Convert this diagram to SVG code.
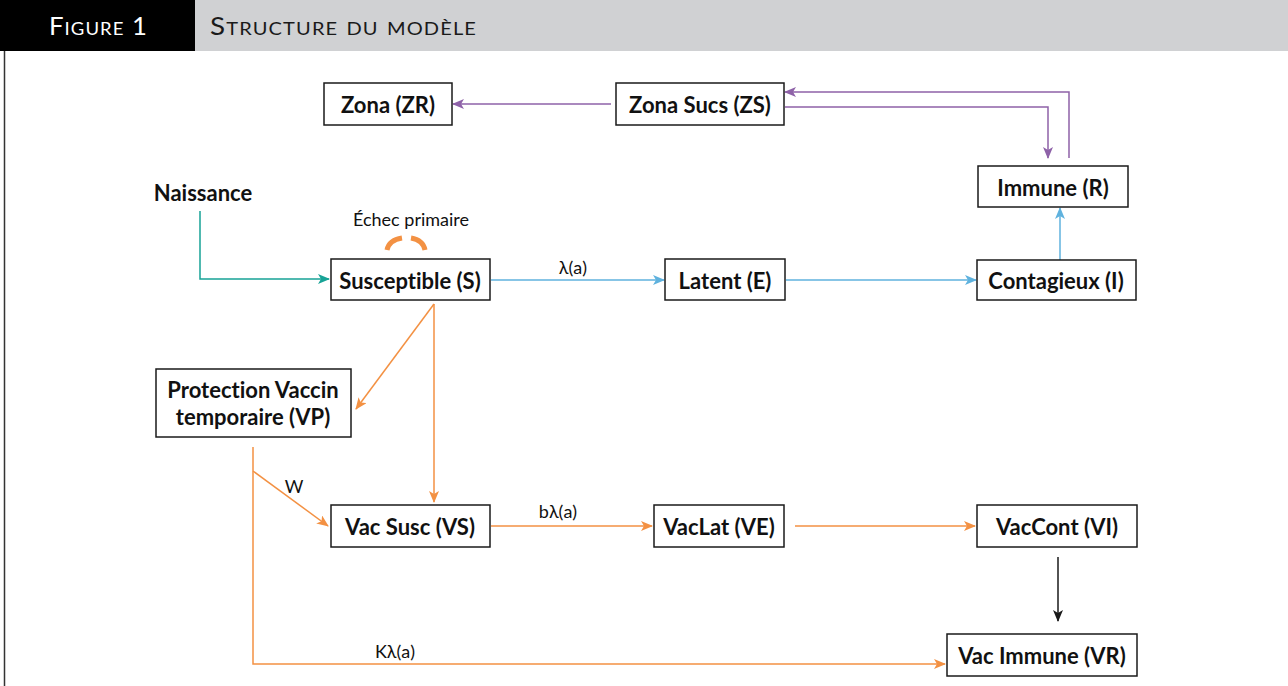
<svg xmlns="http://www.w3.org/2000/svg" width="1288" height="686" viewBox="0 0 1288 686">
<style>
text{font-variant-ligatures:none}
.box{fill:#fff;stroke:#1a1a1a;stroke-width:1.5}
.t{font-family:Lato,"Open Sans",sans-serif;font-weight:bold;font-size:22px;fill:#111;text-anchor:middle;dominant-baseline:central}
.l{font-family:Lato,"Open Sans",sans-serif;font-size:18px;fill:#111;text-anchor:middle}
.hd{font-family:Lato,"Open Sans",sans-serif;font-size:25px;font-variant:small-caps;letter-spacing:1px}
.c{fill:none;stroke-width:1.5}
.pu{stroke:#8e62a8}.bl{stroke:#5fb2de}.te{stroke:#17a396}.or{stroke:#f39143}.bk{stroke:#1a1a1a}
</style>
<defs>
<marker id="ap" viewBox="0 0 12 10" refX="11" refY="5" markerWidth="12" markerHeight="10" markerUnits="userSpaceOnUse" orient="auto"><path d="M0,0 L12,5 L0,10 L3,5 z" fill="#8e62a8"/></marker>
<marker id="ab" viewBox="0 0 12 10" refX="11" refY="5" markerWidth="12" markerHeight="10" markerUnits="userSpaceOnUse" orient="auto"><path d="M0,0 L12,5 L0,10 L3,5 z" fill="#5fb2de"/></marker>
<marker id="at" viewBox="0 0 12 10" refX="11" refY="5" markerWidth="12" markerHeight="10" markerUnits="userSpaceOnUse" orient="auto"><path d="M0,0 L12,5 L0,10 L3,5 z" fill="#17a396"/></marker>
<marker id="ao" viewBox="0 0 12 10" refX="11" refY="5" markerWidth="12" markerHeight="10" markerUnits="userSpaceOnUse" orient="auto"><path d="M0,0 L12,5 L0,10 L3,5 z" fill="#f39143"/></marker>
<marker id="ak" viewBox="0 0 12 10" refX="11" refY="5" markerWidth="12" markerHeight="10" markerUnits="userSpaceOnUse" orient="auto"><path d="M0,0 L12,5 L0,10 L3,5 z" fill="#1a1a1a"/></marker>
</defs>
<rect width="1288" height="686" fill="#fff"/>
<g id="header">
<rect x="0" y="0" width="195" height="51" fill="#000"/>
<rect x="195" y="0" width="1093" height="51" fill="#d0d1d3"/>
<line x1="4.5" y1="51" x2="4.5" y2="686" stroke="#333" stroke-width="1.5"/>
<text class="hd" x="49" y="35" fill="#fff" textLength="99" lengthAdjust="spacingAndGlyphs">Figure 1</text>
<text class="hd" x="210" y="35" fill="#1a1a1a" textLength="267" lengthAdjust="spacingAndGlyphs">Structure du modèle</text>
</g>
<g id="connectors">
<line class="c pu" x1="611" y1="104" x2="453" y2="104" marker-end="url(#ap)"/>
<polyline class="c pu" points="1069,158 1069,92 785,92" marker-end="url(#ap)"/>
<polyline class="c pu" points="785,107 1048,107 1048,158" marker-end="url(#ap)"/>
<line class="c bl" x1="1060" y1="260" x2="1060" y2="208" marker-end="url(#ab)"/>
<line class="c bl" x1="491" y1="280" x2="664" y2="280" marker-end="url(#ab)"/>
<line class="c bl" x1="786" y1="280" x2="976" y2="280" marker-end="url(#ab)"/>
<polyline class="c te" points="200,211 200,279 329,279" marker-end="url(#at)"/>
<path d="M387,250 Q389,240 402,238 M411,238 Q423,240 425,250" fill="none" stroke="#f39143" stroke-width="5"/>
<line class="c or" x1="434" y1="304" x2="356" y2="409" marker-end="url(#ao)"/>
<line class="c or" x1="434" y1="304" x2="434" y2="502" marker-end="url(#ao)"/>
<line class="c or" x1="253" y1="471" x2="328" y2="526" marker-end="url(#ao)"/>
<polyline class="c or" points="253,447 253,664 945,664" marker-end="url(#ao)"/>
<line class="c or" x1="491" y1="526" x2="652" y2="526" marker-end="url(#ao)"/>
<line class="c or" x1="795" y1="526" x2="975" y2="526" marker-end="url(#ao)"/>
<line class="c bk" x1="1058" y1="557" x2="1058" y2="621" marker-end="url(#ak)"/>
</g>
<g id="labels">
<text class="l" x="573" y="274">λ(a)</text>
<text class="l" x="558" y="518">bλ(a)</text>
<text class="l" x="294" y="493">W</text>
<text class="l" x="395" y="658">Kλ(a)</text>
<text class="l" x="411" y="226">Échec primaire</text>
</g>
<g id="naissance"><text class="t" x="203" y="192">Naissance</text></g>
<g id="ZR"><rect class="box" x="324" y="83" width="128" height="42"/><text class="t" x="388" y="104">Zona (ZR)</text></g>
<g id="ZS"><rect class="box" x="616" y="83" width="168" height="42"/><text class="t" x="700" y="104">Zona Sucs (ZS)</text></g>
<g id="R"><rect class="box" x="978" y="166" width="150" height="41"/><text class="t" x="1053" y="187">Immune (R)</text></g>
<g id="S"><rect class="box" x="331" y="259" width="159" height="41"/><text class="t" x="410" y="280">Susceptible (S)</text></g>
<g id="E"><rect class="box" x="665" y="259" width="120" height="41"/><text class="t" x="725" y="280">Latent (E)</text></g>
<g id="I"><rect class="box" x="977" y="260" width="159" height="40"/><text class="t" x="1056" y="280">Contagieux (I)</text></g>
<g id="VP"><rect class="box" x="156" y="369" width="195" height="68"/><text class="t" x="253" y="389">Protection Vaccin</text><text class="t" x="253" y="416">temporaire (VP)</text></g>
<g id="VS"><rect class="box" x="331" y="505" width="159" height="42"/><text class="t" x="410" y="526">Vac Susc (VS)</text></g>
<g id="VE"><rect class="box" x="654" y="505" width="130" height="42"/><text class="t" x="719" y="526">VacLat (VE)</text></g>
<g id="VI"><rect class="box" x="977" y="505" width="160" height="42"/><text class="t" x="1057" y="526">VacCont (VI)</text></g>
<g id="VR"><rect class="box" x="947" y="634" width="190" height="42"/><text class="t" x="1042" y="655">Vac Immune (VR)</text></g>
</svg>
